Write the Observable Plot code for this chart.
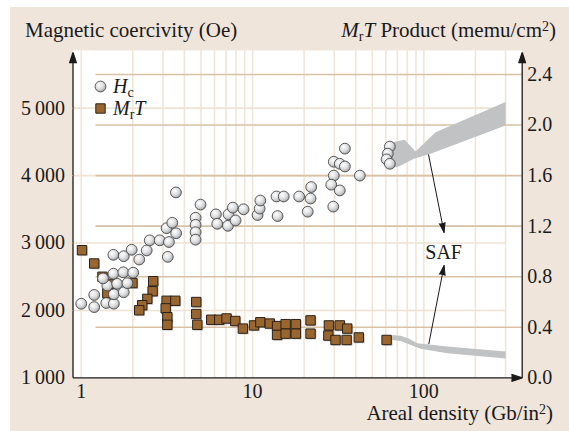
<!DOCTYPE html>
<html>
<head>
<meta charset="utf-8">
<script src="https://cdn.jsdelivr.net/npm/d3@7"></script>
<script src="https://cdn.jsdelivr.net/npm/@observablehq/plot@0.6"></script>
<style>
  html, body { margin: 0; padding: 0; background: #fff; }
  #chart svg { display: block; }
</style>
</head>
<body>
<div id="chart"></div>
<script>
// Coercivity Hc (Oe) of recording media against areal density (Gb/in²)
const hcDensity = [1.00, 1.19, 1.19, 1.40, 1.55, 1.55, 1.77, 1.42, 1.62, 1.86, 1.34, 1.54, 1.76, 2.01,
  1.54, 1.77, 1.97, 2.18, 2.41, 2.51, 2.87, 3.25, 3.20, 3.15, 3.40, 3.58, 3.57, 4.65, 4.65, 4.65, 4.65,
  4.97, 6.11, 6.22, 7.18, 7.24, 7.67, 7.96, 8.86, 10.7, 11.0, 11.1, 14.0, 13.8, 15.2, 18.7, 22.0, 21.8,
  21.0, 29.8, 32.3, 34.6, 34.6, 29.8, 28.8, 32.3, 29.6, 42.3, 63.3, 61.6, 60.6, 63.3];
const hcValue = [2100, 2230, 2050, 2110, 2100, 2240, 2270, 2370, 2395, 2405, 2475, 2545, 2565, 2560,
  2825, 2805, 2900, 2755, 2890, 3040, 3040, 3015, 2795, 3220, 3300, 3145, 3750, 3375, 3270, 3160, 3050,
  3570, 3425, 3285, 3255, 3425, 3525, 3335, 3500, 3415, 3510, 3630, 3400, 3690, 3690, 3690, 3830, 3660,
  3465, 4205, 4175, 4135, 4400, 4000, 3865, 3780, 3540, 4000, 4430, 4325, 4240, 4175];

// Remanence-thickness product MrT (memu/cm²) against areal density
const mrtDensity = [1.01, 1.19, 1.33, 1.42, 1.47, 1.99, 2.63, 2.61, 2.43, 2.27, 2.18, 3.15, 3.54, 3.11,
  3.18, 3.18, 4.69, 4.69, 4.76, 5.74, 6.39, 7.05, 7.93, 8.78, 10.2, 11.1, 12.6, 13.9, 13.9, 15.6, 15.6,
  17.9, 17.9, 21.8, 21.8, 27.9, 32.3, 35.7, 27.7, 30.5, 35.4, 41.7, 60.6];
const mrtValue = [1.01, 0.905, 0.80, 0.67, 0.745, 0.75, 0.765, 0.685, 0.625, 0.575, 0.535, 0.61, 0.61, 0.55,
  0.48, 0.42, 0.60, 0.505, 0.42, 0.46, 0.46, 0.47, 0.45, 0.39, 0.415, 0.44, 0.43, 0.41, 0.34, 0.425, 0.35,
  0.425, 0.35, 0.455, 0.35, 0.415, 0.415, 0.39, 0.335, 0.30, 0.30, 0.32, 0.30];

// SAF media: outline of the coercivity band (Oe) and of the MrT band (memu/cm²)
const safHcDensity = [63.9, 69.9, 77.2, 89.4, 117, 300, 300, 156.7, 109.4, 87.4, 71.5, 63.9];
const safHcValue   = [4490, 4510, 4530, 4357, 4644, 5090, 4743, 4472, 4323, 4249, 4135, 4105];
const safMrtDensity = [65.4, 73.1, 81.4, 91.5, 136.9, 300, 300, 136.9, 95.7, 85.6, 73.1, 65.4];
const safMrtValue   = [0.339, 0.333, 0.312, 0.275, 0.248, 0.208, 0.153, 0.195, 0.230, 0.256, 0.291, 0.299];

// Axes: ticks, labels and grid
const xTicks = [1, 10, 100];
const xGrid = [1, 2, 3, 4, 5, 6, 7, 8, 9, 10, 20, 30, 40, 50, 60, 70, 80, 90, 100, 200, 300];
const hcTicks = [1000, 2000, 3000, 4000, 5000];
const hcTickLabels = ["1\u2009000", "2\u2009000", "3\u2009000", "4\u2009000", "5\u2009000"];
const mrtTicks = [0, 0.4, 0.8, 1.2, 1.6, 2.0, 2.4];
const mrtTickLabels = ["0.0", "0.4", "0.8", "1.2", "1.6", "2.0", "2.4"];

// The MrT axis shares the vertical scale: 0 → 1000 Oe, 1.6 → 4000 Oe
const toHc = (m) => 1000 + m * 1875;

const xDomain = [0.895, 375];
const yDomain = [1000, 5855];
const yTop = 5826;

const hc = hcDensity.map((x, i) => ({x, y: hcValue[i]}));
const mrt = mrtDensity.map((x, i) => ({x, y: toHc(mrtValue[i])}));
const bandHc = safHcDensity.map((x, i) => ({x, y: safHcValue[i]}));
const bandMrt = safMrtDensity.map((x, i) => ({x, y: toHc(safMrtValue[i])}));

const safArrows = [
  {x1: 106.5, y1: 4310, x2: 131.2, y2: 3156},
  {x1: 106.9, y1: 1506, x2: 131.2, y2: 2667}
];
const axisLines = [
  {x1: xDomain[0], y1: yDomain[0], x2: xDomain[0], y2: yTop},
  {x1: xDomain[1], y1: yDomain[0], x2: xDomain[1], y2: yTop},
  {x1: xDomain[0], y1: yDomain[0], x2: xDomain[1], y2: yDomain[0]}
];

const ink = "#1a1a1a";
const serif = '"Liberation Serif", "Times New Roman", serif';

const chart = Plot.plot({
  width: 569,
  height: 431,
  marginTop: 50,
  marginRight: 47.3,
  marginBottom: 53.6,
  marginLeft: 72.5,
  style: {
    fontFamily: serif,
    fontSize: "20px",
    color: ink,
    overflow: "visible",
    background: "linear-gradient(#efe5da, #efe5da) 10px 7px / 559px 424px no-repeat, #ffffff"
  },
  x: {type: "log", domain: xDomain},
  y: {domain: yDomain},
  marks: [
    Plot.frame({fill: "#ffffff", stroke: "none"}),
    // grid
    Plot.ruleX(xGrid, {stroke: "#f1e5d8", strokeWidth: 1.6}),
    Plot.ruleY(hcTicks.slice(1), {x1: xDomain[0], x2: 300, stroke: "#efe2d3", strokeWidth: 1.6}),
    Plot.ruleY(mrtTicks.slice(1).map(toHc), {x1: 1.22, x2: xDomain[1], stroke: "#d9c1a6", strokeWidth: 1.6}),
    // SAF bands
    Plot.line(bandHc, {x: "x", y: "y", fill: "#c0c2c4", stroke: "none"}),
    Plot.line(bandMrt, {x: "x", y: "y", fill: "#c0c2c4", stroke: "none"}),
    // MrT squares with a soft shadow
    Plot.dot(mrt, {x: "x", y: "y", symbol: "square", r: 5.3, dx: 1.2, dy: 1.2, fill: "#8a8a8a", fillOpacity: 0.45, stroke: "none"}),
    Plot.dot(mrt, {x: "x", y: "y", symbol: "square", r: 5.3, fill: "#9a6630", stroke: "#2a2118", strokeWidth: 1}),
    // Hc circles
    Plot.dot(hc, {x: "x", y: "y", r: 5.4, fill: "url(#hcFill)", stroke: "#4a4a4a", strokeWidth: 0.9}),
    // SAF annotation
    Plot.arrow(safArrows, {x1: "x1", y1: "y1", x2: "x2", y2: "y2", stroke: ink, fill: ink, strokeWidth: 1, headAngle: 34, headLength: 15}),
    Plot.text([{x: 130.4, y: 2860, t: "SAF"}], {x: "x", y: "y", text: "t", fontSize: 20, fill: ink}),
    // axis lines with arrowheads
    Plot.arrow(axisLines, {x1: "x1", y1: "y1", x2: "x2", y2: "y2", stroke: ink, fill: ink, strokeWidth: 1.3, strokeLinecap: "butt", headAngle: 36, headLength: 13}),
    // tick labels
    Plot.axisY(hcTicks, {anchor: "left", tickSize: 6, tickPadding: 2, stroke: "#efe2d3", tickFormat: (d) => hcTickLabels[hcTicks.indexOf(d)], fontSize: 20, fill: ink, label: null}),
    Plot.axisY(mrtTicks.map(toHc), {anchor: "right", tickSize: 0, tickPadding: 5, tickFormat: (d) => mrtTickLabels[mrtTicks.map(toHc).indexOf(d)], fontSize: 20, fill: ink, label: null}),
    Plot.axisX(xTicks, {anchor: "bottom", tickSize: 0, tickPadding: 6, tickFormat: (d) => String(d), fontSize: 20, fill: ink, label: null}),
    // legend symbols
    Plot.dot([0], {frameAnchor: "top-left", dx: 27.5, dy: 36, r: 5.4, fill: "url(#hcFill)", stroke: "#4a4a4a", strokeWidth: 0.9}),
    Plot.dot([0], {frameAnchor: "top-left", dx: 27.5, dy: 58, symbol: "square", r: 5.3, fill: "#9a6630", stroke: "#2a2118", strokeWidth: 1})
  ]
});

// shading for the coercivity markers
const svg = d3.select(chart);
const grad = svg.insert("defs", ":first-child")
  .append("radialGradient").attr("id", "hcFill")
  .attr("cx", "38%").attr("cy", "35%").attr("r", "70%");
grad.append("stop").attr("offset", "0%").attr("stop-color", "#ffffff");
grad.append("stop").attr("offset", "55%").attr("stop-color", "#dcdddf");
grad.append("stop").attr("offset", "100%").attr("stop-color", "#9c9ea1");

// titles and legend labels with sub/superscripts
function label(x, y, anchor, parts) {
  const t = svg.append("text")
    .attr("x", x).attr("y", y)
    .attr("text-anchor", anchor)
    .attr("font-family", serif)
    .attr("font-size", 21)
    .attr("fill", ink);
  for (const p of parts) {
    const s = t.append("tspan").text(p.text);
    if (p.italic) s.attr("font-style", "italic");
    if (p.sub) s.attr("font-size", 14).attr("baseline-shift", "-25%");
    if (p.sup) s.attr("font-size", 14).attr("baseline-shift", "45%");
  }
  return t;
}

label(25, 37, "start", [{text: "Magnetic coercivity (Oe)"}]);
label(556, 37, "end", [
  {text: "M", italic: true}, {text: "r", sub: true}, {text: "T", italic: true},
  {text: " Product (memu/cm"}, {text: "2", sup: true}, {text: ")"}
]);
label(553, 420, "end", [{text: "Areal density (Gb/in"}, {text: "2", sup: true}, {text: ")"}]);
label(113, 93, "start", [{text: "H", italic: true}, {text: "c", sub: true}]).attr("font-size", 20);
label(113, 115, "start", [{text: "M", italic: true}, {text: "r", sub: true}, {text: "T", italic: true}]).attr("font-size", 20);

document.getElementById("chart").appendChild(chart);
</script>
</body>
</html>
